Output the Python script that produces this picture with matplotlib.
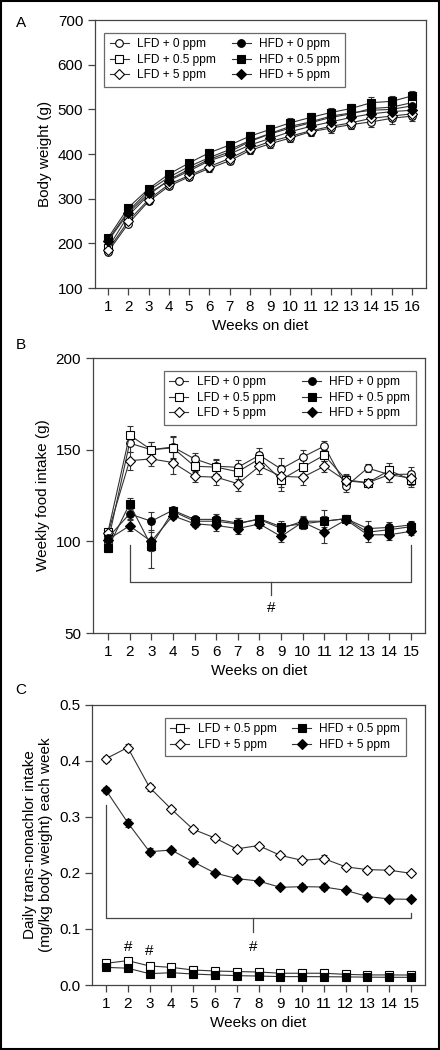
import matplotlib
matplotlib.use("Agg")
import matplotlib.pyplot as plt
from matplotlib.patches import Rectangle
from matplotlib.lines import Line2D

plt.rcParams['font.family'] = ['Liberation Sans', 'DejaVu Sans']
plt.rcParams['font.size'] = 10

# ---- data ----
weeks_a = list(range(1, 17))
bw_lfd0 = [181, 244, 294, 328, 349, 368, 385, 408, 423, 436, 450, 458, 466, 472, 480, 485]
bw_lfd05 = [190, 262, 308, 342, 366, 388, 405, 428, 445, 458, 470, 482, 490, 502, 505, 515]
bw_lfd5 = [185, 250, 298, 332, 352, 372, 390, 412, 428, 440, 452, 462, 470, 480, 485, 490]
bw_hfd0 = [208, 272, 318, 348, 372, 392, 410, 430, 446, 462, 472, 485, 492, 498, 500, 508]
bw_hfd05 = [212, 280, 322, 355, 380, 403, 420, 440, 455, 470, 482, 493, 502, 515, 518, 530]
bw_hfd5 = [205, 268, 312, 340, 362, 385, 400, 420, 435, 450, 462, 472, 482, 490, 495, 498]
bw_err = [5, 6, 6, 7, 7, 8, 8, 9, 9, 10, 10, 10, 11, 12, 12, 12]

weeks_b = list(range(1, 16))
fi_lfd0 = [99.5, 153.6, 150, 151.5, 145, 141, 140.4, 147, 139.5, 146, 152, 130, 140, 136.4, 136.7]
fi_lfd05 = [105, 158, 150, 151, 141, 140.5, 138, 145, 133.6, 140.5, 147, 133.6, 132, 138.7, 133.6]
fi_lfd5 = [104.5, 144, 145, 143, 135.5, 135, 131.5, 141, 135.5, 135, 141, 133, 132, 136.4, 134.5]
fi_hfd0 = [102, 115, 111, 117, 112, 112, 110, 112, 107, 111, 111, 112.4, 107, 107.6, 109]
fi_hfd05 = [96.4, 120.4, 97.6, 116.4, 111, 111, 109.5, 112.4, 108, 109.6, 111, 112.4, 105, 106.4, 108]
fi_hfd5 = [101, 108.5, 100, 114, 109.6, 108.7, 107, 109.5, 102.7, 110.5, 105, 111.8, 103.6, 103.6, 105.5]
fi_err_lfd = [2, 5, 4, 6, 3, 4, 4, 4, 6, 4, 3, 3, 2, 4, 4]
fi_err_hfd = [2, 3, 5, 2, 2, 3, 3, 2, 3, 3, 6, 2, 4, 3, 2]
fi_err_hfd05 = [2, 3, 12, 2, 2, 3, 3, 2, 3, 3, 3, 2, 3, 3, 2]

tn_lfd05 = [0.0387, 0.0435, 0.034, 0.0315, 0.0268, 0.025, 0.024, 0.0232, 0.021, 0.021, 0.021, 0.019, 0.018, 0.018, 0.0178]
tn_lfd5 = [0.404, 0.424, 0.353, 0.314, 0.278, 0.2625, 0.243, 0.249, 0.2315, 0.2226, 0.2256, 0.211, 0.206, 0.205, 0.1994]
tn_hfd05 = [0.0315, 0.030, 0.0202, 0.022, 0.0196, 0.018, 0.0167, 0.016, 0.015, 0.015, 0.0148, 0.0145, 0.014, 0.0138, 0.0137]
tn_hfd5 = [0.348, 0.290, 0.238, 0.241, 0.220, 0.200, 0.190, 0.1857, 0.1744, 0.1756, 0.175, 0.169, 0.158, 0.1536, 0.153]
tn_err5 = [0.005, 0.007, 0.006, 0.004, 0.004, 0.003, 0.004, 0.003, 0.003, 0.004, 0.006, 0.003, 0.004, 0.003, 0.003]
tn_err05 = [0.002, 0.002, 0.002, 0.001, 0.001, 0.001, 0.001, 0.001, 0.001, 0.001, 0.001, 0.001, 0.001, 0.001, 0.001]

LINE = '#333333'
styles = {
    'LFD + 0 ppm': dict(marker='o', mfc='white'),
    'LFD + 0.5 ppm': dict(marker='s', mfc='white'),
    'LFD + 5 ppm': dict(marker='D', mfc='white'),
    'HFD + 0 ppm': dict(marker='o', mfc='black'),
    'HFD + 0.5 ppm': dict(marker='s', mfc='black'),
    'HFD + 5 ppm': dict(marker='D', mfc='black'),
}


def msize(label):
    return 4.8 if styles[label]['marker'] == 'D' else 5.5


def draw(ax, x, y, err, label):
    st = styles[label]
    ax.errorbar(x, y, yerr=err, color=LINE, lw=0.8, elinewidth=0.8, capsize=2,
                marker=st['marker'], mfc=st['mfc'], mec='black', mew=0.8, ms=msize(label))


def legend(ax, labels, **kw):
    handles = [Line2D([], [], color=LINE, lw=0.8, marker=styles[l]['marker'],
                      mfc=styles[l]['mfc'], mec='black', mew=0.8, ms=msize(l)) for l in labels]
    leg = ax.legend(handles, labels, ncol=2, fontsize=8.6, frameon=True, fancybox=False,
                    edgecolor='#444444', handlelength=1.6, labelspacing=0.3,
                    borderpad=0.45, handletextpad=0.7, **kw)
    leg.get_frame().set_linewidth(0.9)
    return leg


def style_axes(ax):
    for s in ax.spines.values():
        s.set_color('#444444')
        s.set_linewidth(0.9)
    ax.tick_params(direction='out', length=5, width=0.9, color='#444444', labelsize=11)
    ax.set_xlabel('Weeks on diet', fontsize=11)


fig = plt.figure(figsize=(4.4, 10.5), dpi=100)
fig.patches.append(Rectangle((0.002, 0.001), 0.996, 0.998, transform=fig.transFigure,
                             fill=False, ec='black', lw=1.5))

labels6 = ['LFD + 0 ppm', 'LFD + 0.5 ppm', 'LFD + 5 ppm', 'HFD + 0 ppm', 'HFD + 0.5 ppm', 'HFD + 5 ppm']

# ---- Panel A ----
axA = fig.add_axes([0.216, 0.7257, 0.752, 0.2552])
for lab, vals in zip(labels6, [bw_lfd0, bw_lfd05, bw_lfd5, bw_hfd0, bw_hfd05, bw_hfd5]):
    draw(axA, weeks_a, vals, bw_err, lab)
axA.set_xlim(0.36, 16.69)
axA.set_ylim(100, 700)
axA.set_xticks(weeks_a)
axA.set_yticks(range(100, 701, 100))
axA.set_ylabel('Body weight (g)', fontsize=11)
style_axes(axA)
legend(axA, labels6, loc='upper left', bbox_to_anchor=(0.01, 0.975), columnspacing=1.3)
fig.text(0.048, 0.978, 'A', fontsize=11, ha='center', va='center')

# ---- Panel B ----
axB = fig.add_axes([0.2114, 0.3971, 0.7545, 0.2619])
for lab, vals, e in zip(labels6, [fi_lfd0, fi_lfd05, fi_lfd5, fi_hfd0, fi_hfd05, fi_hfd5],
                        [fi_err_lfd, fi_err_lfd, fi_err_lfd, fi_err_hfd, fi_err_hfd05, fi_err_hfd]):
    draw(axB, weeks_b, vals, e, lab)
axB.set_xlim(0.31, 15.65)
axB.set_ylim(50, 200)
axB.set_xticks(weeks_b)
axB.set_yticks([50, 100, 150, 200])
axB.set_ylabel('Weekly food intake (g)', fontsize=11)
style_axes(axB)
legend(axB, labels6, loc='upper right', bbox_to_anchor=(0.99, 0.975), columnspacing=2.2)
# significance bracket
axB.plot([2, 2, 15, 15], [98, 78, 78, 98], color='#444444', lw=0.9)
axB.plot([8.55, 8.55], [78, 71], color='#444444', lw=0.9)
axB.text(8.55, 63.5, '#', ha='center', va='center', fontsize=11)
fig.text(0.048, 0.671, 'B', fontsize=11, ha='center', va='center')

# ---- Panel C ----
labels4 = ['LFD + 0.5 ppm', 'LFD + 5 ppm', 'HFD + 0.5 ppm', 'HFD + 5 ppm']
axC = fig.add_axes([0.209, 0.0619, 0.757, 0.2667])
for lab, vals, e in zip(labels4, [tn_lfd05, tn_lfd5, tn_hfd05, tn_hfd5],
                        [tn_err05, tn_err5, tn_err05, tn_err5]):
    draw(axC, weeks_b, vals, e, lab)
axC.set_xlim(0.36, 15.64)
axC.set_ylim(0, 0.5)
axC.set_xticks(weeks_b)
axC.set_yticks([0.0, 0.1, 0.2, 0.3, 0.4, 0.5])
axC.set_ylabel('Daily trans-nonachlor intake\n(mg/kg body weight) each week', fontsize=11,
               linespacing=1.2)
style_axes(axC)
legend(axC, labels4, loc='upper right', bbox_to_anchor=(0.96, 0.975), columnspacing=1.3)
axC.plot([1, 1, 15, 15], [0.321, 0.119, 0.119, 0.129], color='#444444', lw=0.9)
axC.plot([7.75, 7.75], [0.119, 0.094], color='#444444', lw=0.9)
axC.text(7.75, 0.068, '#', ha='center', va='center', fontsize=11)
axC.text(2, 0.068, '#', ha='center', va='center', fontsize=11)
axC.text(3, 0.061, '#', ha='center', va='center', fontsize=11)
fig.text(0.048, 0.343, 'C', fontsize=11, ha='center', va='center')

fig.savefig('out.png', dpi=100)
